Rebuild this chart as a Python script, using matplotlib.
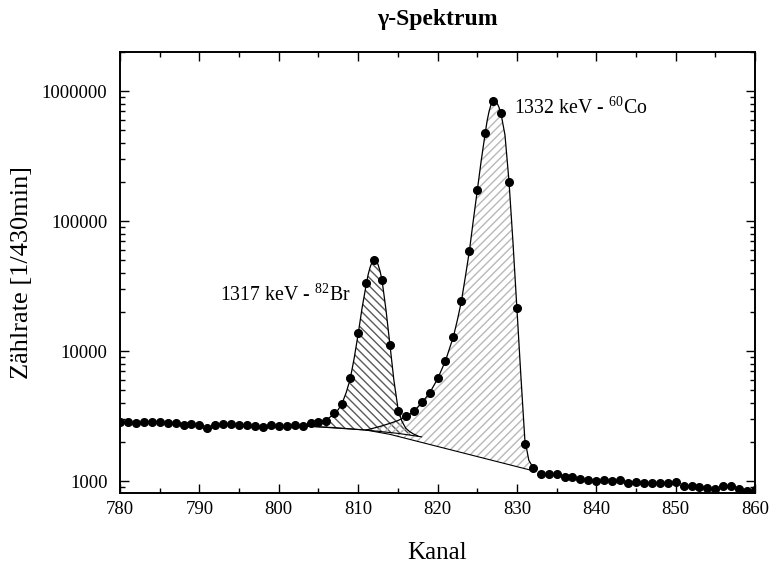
import matplotlib
matplotlib.use("Agg")
import numpy as np
import matplotlib.pyplot as plt
from matplotlib.ticker import FixedLocator, LogLocator, MultipleLocator, NullFormatter

# measured spectrum, one value per channel 780..860
channels = list(range(780, 861))
counts = [
    2827, 2827, 2811, 2858, 2827, 2843, 2794, 2794, 2681, 2760,   # 780-789
    2711, 2542, 2711, 2760, 2745, 2711, 2681, 2662, 2616, 2681,   # 790-799
    2648, 2662, 2681, 2670, 2794, 2830, 2879, 3335, 3910, 6166,   # 800-809
    13830, 33170, 50100, 35160, 11060, 3456, 3162, 3436, 4053, 4728,   # 810-819
    6166, 8420, 12880, 24380, 59110, 173000, 473000, 837800, 673000, 200600,  # 820-829
    21290, 1927, 1270, 1132, 1132, 1132, 1068, 1068, 1030, 1012,  # 830-839
    995, 1018, 1000, 1012, 970, 977, 960, 970, 960, 960,          # 840-849
    982, 920, 910, 904, 888, 873, 920, 910, 873, 842,             # 850-859
    850,                                                          # 860
]

# fit curve of the 82Br peak
br_fit_x = [803, 804, 805, 806, 807, 807.5, 808, 808.5, 809, 809.5, 810, 810.5,
            811, 811.25, 811.5, 811.75, 812, 812.25, 812.5, 812.75, 813, 813.5,
            814, 814.5, 815, 815.5, 816, 816.5, 817, 817.5]
br_fit_y = [2660, 2720, 2810, 2950, 3300, 3550, 4000, 4800, 6100, 8800, 13500,
            21500, 32000, 38500, 44000, 48300, 50300, 49800, 46500, 41500, 35500,
            21000, 11300, 6000, 3700, 2900, 2550, 2400, 2300, 2230]
br_base_x = [803, 807, 811, 815, 818]
br_base_y = [2660, 2580, 2470, 2330, 2190]

# fit curve of the 60Co peak
co_fit_x = [811, 812, 813, 814, 815, 816, 817, 818, 819, 820, 821, 822, 822.5,
            823, 823.5, 824, 824.5, 825, 825.5, 826, 826.25, 826.5, 826.75, 827,
            827.25, 827.5, 827.75, 828, 828.5, 829, 829.5, 830, 830.5, 831,
            831.5, 832.3]
co_fit_y = [2470, 2560, 2660, 2780, 2920, 3120, 3430, 4000, 4750, 6100, 8400,
            12900, 17300, 24000, 37000, 58000, 100000, 170000, 290000, 470000,
            590000, 700000, 790000, 845000, 850000, 810000, 750000, 670000,
            460000, 205000, 70000, 21500, 6500, 2100, 1450, 1190]
co_base_x = [803, 811, 814, 832.3]
co_base_y = [2660, 2470, 2290, 1190]

peak_labels = ["1317 keV - $^{82}$Br", "1332 keV - $^{60}$Co"]
label_pos = [(792.6, 27000), (829.6, 740000)]

plt.rcParams["font.family"] = ["Liberation Serif", "DejaVu Serif"]
plt.rcParams["mathtext.fontset"] = "custom"
plt.rcParams["mathtext.rm"] = "Liberation Serif"
plt.rcParams["hatch.linewidth"] = 1.0

fig = plt.figure(figsize=(7.69, 5.63), dpi=100)
ax = fig.add_axes([120 / 769, 70 / 563, 635 / 769, 441 / 563])

# hatched peak areas
ax.fill(br_fit_x + br_base_x[::-1], br_fit_y + br_base_y[::-1],
        facecolor="none", edgecolor="#5a5a5a", hatch="\\\\\\\\", linewidth=0, zorder=1)
ax.fill(co_fit_x + co_base_x[:0:-1], co_fit_y + co_base_y[:0:-1],
        facecolor="none", edgecolor="#b8b8b8", hatch="////", linewidth=0, zorder=1)

ax.plot(br_fit_x, br_fit_y, color="black", lw=0.9, zorder=3)
ax.plot(br_base_x, br_base_y, color="black", lw=0.8, zorder=3)
ax.plot(co_fit_x, co_fit_y, color="black", lw=0.9, zorder=3)
ax.plot(co_base_x, co_base_y, color="black", lw=0.8, zorder=3)

ax.plot(channels, counts, "o", color="black", ms=5.5, zorder=5, clip_on=True)

for txt, (x, y) in zip(peak_labels, label_pos):
    ax.text(x, y, txt, fontsize=14.3, ha="left", va="center")

ax.set_yscale("log")
ax.set_xlim(780, 860)
ax.set_ylim(810, 2.0e6)

ax.xaxis.set_major_locator(MultipleLocator(10))
ax.xaxis.set_minor_locator(MultipleLocator(5))
ax.yaxis.set_major_locator(FixedLocator([1000, 10000, 100000, 1000000]))
ax.yaxis.set_minor_locator(LogLocator(base=10, subs=np.arange(2, 10)))
ax.yaxis.set_minor_formatter(NullFormatter())
ax.set_yticklabels(["1000", "10000", "100000", "1000000"])

ax.tick_params(which="both", direction="in", top=True, right=True, width=1)
ax.tick_params(which="major", length=6.5, labelsize=13.5)
ax.tick_params(axis="y", which="major", pad=9)
ax.tick_params(axis="x", which="major", pad=6)
ax.tick_params(which="minor", length=3.5)
for sp in ax.spines.values():
    sp.set_linewidth(1.4)

ax.set_xlabel("Kanal", fontsize=18)
ax.set_ylabel("Zählrate [1/430min]", fontsize=19)
ax.xaxis.set_label_coords(0.5, -0.11)
ax.yaxis.set_label_coords(-0.137, 0.5)

fig.text(437 / 769, 1 - 19 / 563, "γ-Spektrum", fontsize=17, fontweight="bold",
         ha="center", va="center")

fig.savefig("out.png", dpi=100)
